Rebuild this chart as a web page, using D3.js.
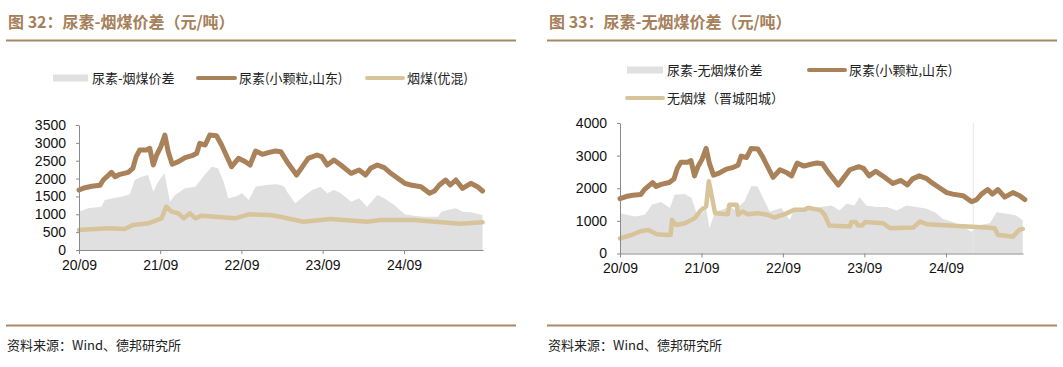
<!DOCTYPE html>
<html>
<head>
<meta charset="utf-8">
<script src="https://cdn.jsdelivr.net/npm/d3@7"></script>
<style>
  body { margin: 0; background: #fff; }
  svg { display: block; }
  .cn { font-family: "Noto Sans CJK SC", "Noto Sans", sans-serif; }
  .num { font-family: "Liberation Sans", Arial, sans-serif; }
</style>
</head>
<body>
<div id="chart"></div>
<script>
// urea, small granule, Shandong (same series on both panels)
var ureaDates = ["2020-09-01","2020-09-28","2020-10-28","2020-12-04","2020-12-19","2021-01-25","2021-02-10","2021-03-04","2021-04-10","2021-05-01","2021-05-16","2021-06-01","2021-07-01","2021-07-16","2021-08-01","2021-08-16","2021-09-04","2021-09-22","2021-10-07","2021-10-25","2021-11-22","2021-12-22","2022-01-22","2022-02-12","2022-02-26","2022-03-22","2022-04-12","2022-05-12","2022-06-04","2022-06-28","2022-07-19","2022-08-19","2022-09-19","2022-10-10","2022-11-04","2022-12-04","2023-01-04","2023-02-01","2023-02-25","2023-03-25","2023-05-07","2023-05-28","2023-06-28","2023-08-07","2023-08-28","2023-09-22","2023-10-22","2023-11-22","2024-01-07","2024-02-12","2024-03-12","2024-04-04","2024-05-04","2024-06-04","2024-07-04","2024-08-04","2024-09-04","2024-10-01","2024-11-16","2024-12-25","2025-01-16","2025-02-07","2025-03-07","2025-03-28","2025-04-22","2025-05-22","2025-06-28","2025-07-28","2025-08-20"];
var ureaValues = [1680,1745,1783,1811,1960,2175,2053,2119,2175,2287,2613,2800,2800,2847,2380,2660,2893,3220,2753,2401,2473,2585,2641,2707,2987,2940,3220,3201,2940,2613,2333,2567,2473,2380,2772,2679,2735,2772,2753,2473,2100,2287,2567,2660,2613,2380,2520,2380,2147,2240,2100,2287,2380,2305,2147,2007,1867,1820,1773,1587,1652,1820,1960,1820,1960,1727,1867,1773,1652];

// bituminous coal (优混)
var bitDates = ["2020-09-01","2021-01-10","2021-03-25","2021-05-01","2021-07-10","2021-09-07","2021-09-28","2021-10-22","2021-11-22","2021-12-16","2022-01-13","2022-02-06","2022-03-07","2022-05-04","2022-08-04","2022-10-04","2023-01-04","2023-02-25","2023-03-13","2023-06-07","2023-10-07","2024-03-19","2024-05-19","2024-10-16","2025-02-16","2025-05-13","2025-08-20"];
var bitValues = [560,607,588,700,747,887,1213,1073,1027,887,1027,887,961,933,887,999,980,933,905,793,868,793,840,840,775,737,775];

// urea - bituminous spread
var spreadBitDates = ["2020-09-01","2020-10-12","2020-12-11","2020-12-26","2021-02-10","2021-03-10","2021-04-17","2021-05-10","2021-06-09","2021-07-09","2021-08-01","2021-08-23","2021-09-20","2021-10-15","2021-11-07","2021-12-22","2022-02-06","2022-03-13","2022-04-20","2022-05-19","2022-06-13","2022-07-04","2022-08-04","2022-09-04","2022-10-04","2022-11-04","2022-12-19","2023-02-01","2023-02-25","2023-03-13","2023-03-25","2023-05-01","2023-06-16","2023-07-16","2023-08-22","2023-09-22","2023-10-22","2023-11-22","2024-01-07","2024-02-12","2024-03-19","2024-05-04","2024-06-04","2024-07-19","2024-09-04","2024-10-16","2024-12-01","2025-02-01","2025-02-16","2025-03-16","2025-04-22","2025-05-22","2025-06-28","2025-08-20"];
var spreadBitValues = [1073,1167,1213,1400,1465,1493,1559,1960,2053,2100,1633,1913,2147,1353,1540,1727,1773,2053,2333,2287,1913,1447,1493,1587,1400,1773,1820,1839,1820,1773,1633,1307,1540,1680,1773,1587,1680,1587,1353,1447,1213,1540,1447,1260,999,961,933,933,1073,1120,1167,1073,1055,980];

// anthracite (晋城阳城)
var anthDates = ["2020-09-01","2020-10-22","2020-12-07","2021-01-07","2021-02-13","2021-04-04","2021-04-16","2021-04-22","2021-05-10","2021-06-19","2021-08-01","2021-09-01","2021-09-22","2021-10-04","2021-10-19","2021-11-01","2021-12-28","2022-01-04","2022-02-06","2022-02-12","2022-03-04","2022-03-28","2022-05-10","2022-06-25","2022-07-25","2022-09-10","2022-10-22","2022-12-07","2022-12-22","2023-02-16","2023-03-07","2023-03-28","2023-06-28","2023-07-04","2023-07-25","2023-08-04","2023-08-22","2023-09-04","2023-11-25","2023-12-25","2024-04-07","2024-05-07","2024-06-07","2024-08-04","2025-02-28","2025-04-07","2025-04-22","2025-05-28","2025-06-28","2025-07-25","2025-08-11"];
var anthValues = [464,567,691,722,588,567,567,1031,876,928,1082,1340,1443,2216,1701,1237,1206,1495,1495,1186,1289,1206,1237,1186,1103,1206,1340,1340,1400,1330,1187,856,825,962,962,856,856,962,929,773,794,980,898,877,794,773,567,546,515,722,753];

// urea - anthracite spread
var spreadAnthDates = ["2020-09-01","2020-11-07","2020-12-22","2021-01-22","2021-03-04","2021-04-13","2021-05-04","2021-06-19","2021-07-19","2021-08-10","2021-09-01","2021-09-22","2021-10-07","2021-11-01","2021-12-01","2022-01-07","2022-01-28","2022-03-13","2022-04-12","2022-05-10","2022-06-04","2022-07-04","2022-08-25","2022-10-01","2022-10-22","2022-12-22","2023-02-16","2023-04-07","2023-05-13","2023-06-13","2023-07-19","2023-08-10","2023-09-10","2023-10-25","2023-12-10","2024-01-25","2024-03-07","2024-04-22","2024-06-07","2024-07-13","2024-08-19","2024-10-04","2024-11-19","2024-12-25","2025-02-01","2025-03-16","2025-04-16","2025-06-01","2025-07-13","2025-08-11"];
var spreadAnthValues = [1237,1134,1186,1495,1577,1392,1804,1825,1701,1237,1186,1392,773,1289,1340,1443,1340,1598,2062,2062,1701,1289,1392,1031,1340,1371,1423,1475,1318,1525,1475,1733,1475,1423,1423,1318,1475,1423,1370,1266,1060,960,805,670,870,925,1266,1215,1163,1008];

var tickDates = ["2020-09-01","2021-09-01","2022-09-01","2023-09-01","2024-09-01"];
var leftYTicks = [0,500,1000,1500,2000,2500,3000,3500];
var rightYTicks = [0,1000,2000,3000,4000];
var refLineDates = ["2025-01-01"];

var C_UREA = "#a9825a", C_COAL = "#d8c49a", C_AREA = "#e0e0e0", C_RULE = "#a98865", C_TITLE = "#a6805a";

var parse = d3.timeParse("%Y-%m-%d");
function pairs(ds, vs){ return ds.map(function(d, i){ return {date: parse(d), value: vs[i]}; }); }

var svg = d3.select("#chart").append("svg")
    .attr("width", 1063)
    .attr("height", 367);

function drawPanel(p){
    var g = svg.append("g").attr("transform", "translate(" + p.ox + ",0)");

    // title and rules
    g.append("text").attr("class", "cn")
        .attr("x", 8).attr("y", 28)
        .attr("fill", C_TITLE)
        .style("font-size", "16px").style("font-weight", "bold")
        .text(p.title);
    g.append("line").attr("x1", 6).attr("x2", 516).attr("y1", 40.5).attr("y2", 40.5)
        .attr("stroke", C_RULE).attr("stroke-width", 2);
    g.append("line").attr("x1", 6).attr("x2", 516).attr("y1", 325.5).attr("y2", 325.5)
        .attr("stroke", C_RULE).attr("stroke-width", 2);
    g.append("text").attr("class", "cn")
        .attr("x", 7).attr("y", 350)
        .attr("fill", "#222")
        .style("font-size", "13px")
        .text("资料来源：Wind、德邦研究所");

    // legend
    p.legend.forEach(function(l){
        g.append("line").attr("x1", l.x).attr("x2", l.x + l.w).attr("y1", l.y).attr("y2", l.y)
            .attr("stroke", l.color).attr("stroke-width", l.sw)
            .attr("stroke-linecap", l.sw > 6 ? "butt" : "round");
        g.append("text").attr("class", "cn")
            .attr("x", l.x + l.w + 4).attr("y", l.y + 5)
            .attr("fill", "#222")
            .style("font-size", "13px")
            .text(l.label);
    });

    var x = d3.scaleTime().domain([parse("2020-09-01"), parse(p.end)]).range([p.left, p.right]);
    var y = d3.scaleLinear().domain([0, p.ymax]).range([p.bottom, p.top]);

    var spread = pairs(p.spreadDates, p.spreadValues);
    var urea = pairs(ureaDates, ureaValues);
    var coal = pairs(p.coalDates, p.coalValues);

    g.append("path").datum(spread)
        .attr("fill", C_AREA)
        .attr("d", d3.area().x(function(d){ return x(d.date); }).y0(y(0)).y1(function(d){ return y(d.value); }));

    if (p.refLines){
        p.refLines.forEach(function(r){
            g.append("line").attr("x1", x(parse(r))).attr("x2", x(parse(r)))
                .attr("y1", y(p.ymax)).attr("y2", y(0))
                .attr("stroke", "#e6e6e6").attr("stroke-width", 1);
        });
    }

    var line = d3.line().x(function(d){ return x(d.date); }).y(function(d){ return y(d.value); });
    g.append("path").datum(urea)
        .attr("fill", "none").attr("stroke", C_UREA).attr("stroke-width", 5)
        .attr("stroke-linejoin", "round").attr("stroke-linecap", "round")
        .attr("d", line);
    g.append("path").datum(coal)
        .attr("fill", "none").attr("stroke", C_COAL).attr("stroke-width", 4.5)
        .attr("stroke-linejoin", "round").attr("stroke-linecap", "round")
        .attr("d", line);

    // axes
    var yAxis = g.append("g").attr("transform", "translate(" + p.left + ",0)")
        .call(d3.axisLeft(y).tickValues(p.yTicks).tickFormat(d3.format("d"))
              .tickSize(3).tickPadding(10).tickSizeOuter(0));
    yAxis.select(".domain").attr("stroke", "#8a8a8a");
    yAxis.selectAll(".tick line").attr("stroke", "#8a8a8a");
    yAxis.selectAll("text").attr("class", "num").style("font-size", "14px").attr("fill", "#111");

    var xAxis = g.append("g").attr("transform", "translate(0," + p.bottom + ")")
        .call(d3.axisBottom(x).tickValues(tickDates.map(parse)).tickFormat(d3.timeFormat("%y/%m"))
              .tickSize(4).tickPadding(6).tickSizeOuter(0));
    xAxis.select(".domain").attr("stroke", "#8a8a8a");
    xAxis.selectAll(".tick line").attr("stroke", "#8a8a8a");
    xAxis.selectAll("text").attr("class", "num").style("font-size", "14px").attr("fill", "#111");
}

drawPanel({
    ox: 0,
    title: "图 32：尿素-烟煤价差（元/吨）",
    left: 79, right: 483, top: 125, bottom: 250, ymax: 3500, end: "2025-08-22",
    yTicks: leftYTicks,
    spreadDates: spreadBitDates, spreadValues: spreadBitValues,
    coalDates: bitDates, coalValues: bitValues,
    legend: [
        {x: 53, w: 35, y: 78, color: C_AREA, sw: 7, label: "尿素-烟煤价差"},
        {x: 198, w: 37, y: 78, color: C_UREA, sw: 4, label: "尿素(小颗粒,山东)"},
        {x: 367, w: 36, y: 78, color: C_COAL, sw: 4, label: "烟煤(优混)"}
    ]
});

drawPanel({
    ox: 541,
    title: "图 33：尿素-无烟煤价差（元/吨）",
    left: 79, right: 482, top: 123, bottom: 253.5, ymax: 4000, end: "2025-08-12",
    yTicks: rightYTicks,
    spreadDates: spreadAnthDates, spreadValues: spreadAnthValues,
    coalDates: anthDates, coalValues: anthValues,
    refLines: refLineDates,
    legend: [
        {x: 86, w: 36, y: 70, color: C_AREA, sw: 7, label: "尿素-无烟煤价差"},
        {x: 268, w: 36, y: 70, color: C_UREA, sw: 4, label: "尿素(小颗粒,山东)"},
        {x: 86, w: 36, y: 98, color: C_COAL, sw: 4, label: "无烟煤（晋城阳城）"}
    ]
});
</script>
</body>
</html>
